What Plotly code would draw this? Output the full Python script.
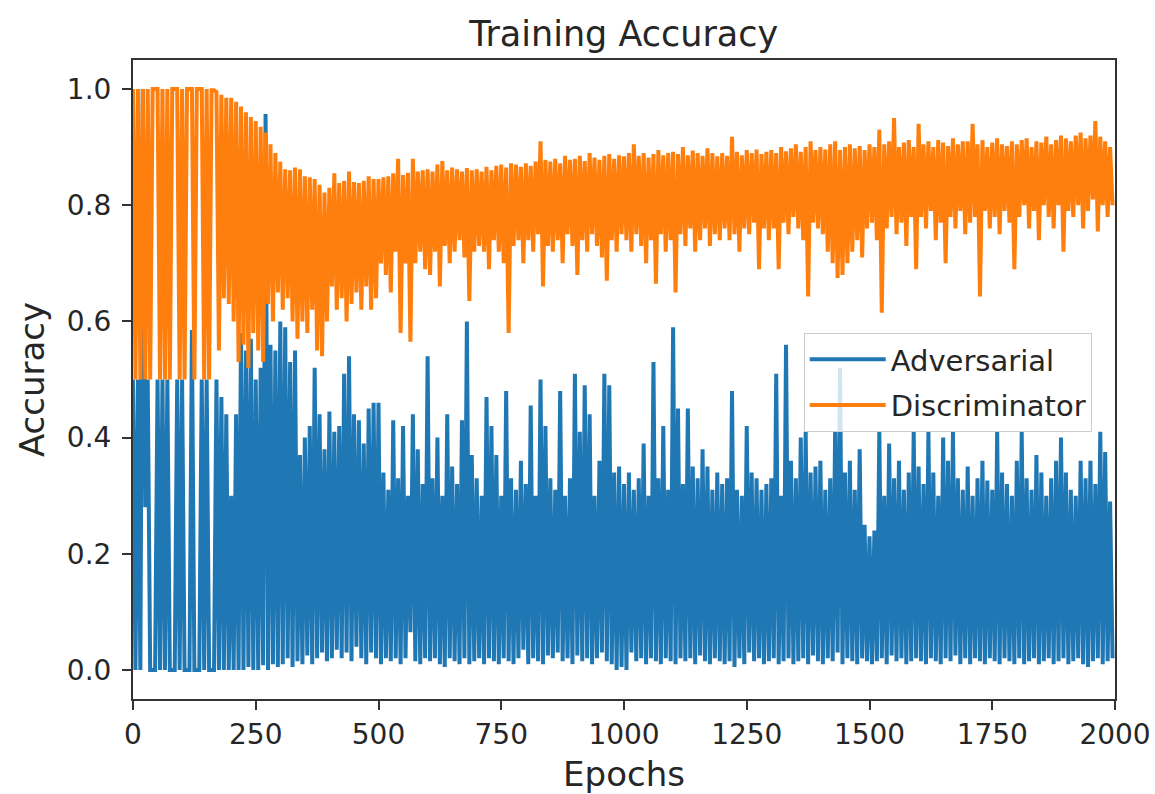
import plotly.graph_objects as go

# Bin start epochs (each bin = 10 epochs); per bin the max (hi) and min (lo)
bin_epochs = list(range(0, 2000, 10))

adv_hi = [
    0.5, 0.5, 1.0, 0.5, 0.0, 0.5, 0.5, 0.5, 0.0, 0.5,
    0.5, 0.0, 0.585, 0.0, 0.5, 0.5, 0.0, 0.5, 0.47, 0.44,
    0.3, 0.44, 0.58, 0.55, 0.57, 0.5, 0.52, 0.957, 0.56, 0.55,
    0.6, 0.59, 0.53, 0.55, 0.37, 0.4, 0.42, 0.52, 0.44, 0.38,
    0.445, 0.41, 0.42, 0.51, 0.54, 0.44, 0.43, 0.39, 0.45, 0.46,
    0.46, 0.34, 0.31, 0.43, 0.33, 0.42, 0.3, 0.44, 0.38, 0.32,
    0.54, 0.33, 0.4, 0.3, 0.44, 0.35, 0.32, 0.43, 0.6, 0.37,
    0.33, 0.3, 0.47, 0.42, 0.37, 0.3, 0.48, 0.33, 0.31, 0.36,
    0.32, 0.455, 0.3, 0.5, 0.42, 0.33, 0.31, 0.48, 0.3, 0.33,
    0.51, 0.41, 0.49, 0.44, 0.3, 0.36, 0.51, 0.49, 0.34, 0.35,
    0.32, 0.34, 0.31, 0.33, 0.39, 0.3, 0.53, 0.33, 0.42, 0.31,
    0.59, 0.45, 0.32, 0.45, 0.35, 0.33, 0.38, 0.35, 0.31, 0.34,
    0.32, 0.33, 0.48, 0.31, 0.3, 0.42, 0.34, 0.33, 0.31, 0.32,
    0.33, 0.51, 0.3, 0.56, 0.36, 0.33, 0.4, 0.41, 0.34, 0.35,
    0.36, 0.31, 0.33, 0.41, 0.52, 0.34, 0.36, 0.31, 0.38, 0.25,
    0.23, 0.24, 0.41, 0.3, 0.39, 0.33, 0.36, 0.31, 0.34, 0.41,
    0.35, 0.32, 0.41, 0.34, 0.3, 0.4, 0.36, 0.41, 0.33, 0.31,
    0.35, 0.3, 0.33, 0.36, 0.326, 0.31, 0.41, 0.34, 0.32, 0.3,
    0.36, 0.41, 0.33, 0.31, 0.37, 0.34, 0.3, 0.33, 0.36, 0.4,
    0.34, 0.31, 0.3, 0.36, 0.33, 0.36, 0.32, 0.41, 0.375, 0.29,
]

adv_lo = [
    0.0, 0.0, 0.28, 0.0, 0.0, 0.0, 0.0, 0.0, 0.0, 0.0,
    0.0, 0.0, 0.0, 0.0, 0.0, 0.0, 0.0, 0.0, 0.0, 0.0,
    0.0, 0.0, 0.0, 0.005, 0.0, 0.0, 0.008, 0.0, 0.01, 0.005,
    0.01, 0.02, 0.005, 0.015, 0.01, 0.025, 0.01, 0.02, 0.03, 0.015,
    0.02, 0.035, 0.02, 0.03, 0.015, 0.04, 0.02, 0.01, 0.03, 0.02,
    0.01, 0.02, 0.015, 0.02, 0.01, 0.02, 0.065, 0.015, 0.01, 0.02,
    0.015, 0.02, 0.01, 0.005, 0.02, 0.015, 0.01, 0.02, 0.01, 0.015,
    0.02, 0.01, 0.02, 0.015, 0.01, 0.02, 0.015, 0.01, 0.02, 0.035,
    0.01, 0.02, 0.015, 0.01, 0.025, 0.02, 0.03, 0.015, 0.02, 0.01,
    0.025, 0.015, 0.02, 0.01, 0.02, 0.03, 0.015, 0.01, 0.0, 0.005,
    0.0, 0.03, 0.015, 0.02, 0.01, 0.02, 0.015, 0.01, 0.02, 0.015,
    0.01, 0.02, 0.015, 0.02, 0.01, 0.025, 0.015, 0.01, 0.02, 0.015,
    0.01, 0.015, 0.005, 0.02, 0.01, 0.03, 0.015, 0.02, 0.01, 0.015,
    0.02, 0.01, 0.015, 0.02, 0.01, 0.015, 0.02, 0.01, 0.025, 0.015,
    0.01, 0.02, 0.015, 0.03, 0.01, 0.02, 0.015, 0.01, 0.02, 0.015,
    0.01, 0.015, 0.02, 0.01, 0.025, 0.015, 0.02, 0.01, 0.015, 0.02,
    0.015, 0.01, 0.02, 0.015, 0.01, 0.02, 0.015, 0.025, 0.01, 0.02,
    0.01, 0.02, 0.015, 0.01, 0.02, 0.015, 0.01, 0.02, 0.015, 0.01,
    0.02, 0.01, 0.015, 0.02, 0.01, 0.015, 0.02, 0.01, 0.015, 0.02,
    0.01, 0.015, 0.02, 0.01, 0.005, 0.015, 0.02, 0.01, 0.015, 0.02,
]

dis_hi = [
    1.0, 1.0, 1.0, 1.0, 1.0, 1.0, 1.0, 1.0, 1.0, 1.0,
    1.0, 1.0, 1.0, 1.0, 1.0, 1.0, 0.998, 0.995, 0.99, 0.985,
    0.985, 0.978, 0.97, 0.96, 0.952, 0.945, 0.935, 0.925, 0.905, 0.89,
    0.875, 0.862, 0.86, 0.865, 0.862, 0.85, 0.848, 0.845, 0.835, 0.822,
    0.83, 0.855, 0.838, 0.842, 0.858, 0.84, 0.838, 0.842, 0.85, 0.845,
    0.845, 0.848, 0.85, 0.855, 0.88, 0.852, 0.856, 0.88, 0.858, 0.86,
    0.862, 0.858, 0.87, 0.876, 0.86, 0.865, 0.862, 0.858, 0.864, 0.86,
    0.862, 0.858, 0.866, 0.86, 0.868, 0.87, 0.865, 0.872, 0.87, 0.866,
    0.872, 0.868, 0.875, 0.91, 0.878, 0.875, 0.88, 0.872, 0.885, 0.878,
    0.88, 0.885, 0.876, 0.89, 0.882, 0.878, 0.885, 0.888, 0.88, 0.886,
    0.884, 0.89, 0.905, 0.885, 0.89, 0.882, 0.888, 0.895, 0.886, 0.89,
    0.892, 0.888, 0.9, 0.886, 0.894, 0.89, 0.885, 0.898, 0.89, 0.884,
    0.89, 0.885, 0.918, 0.892, 0.886, 0.895, 0.89, 0.896, 0.888, 0.892,
    0.895, 0.89, 0.9, 0.893, 0.898, 0.905, 0.892, 0.9, 0.91, 0.895,
    0.9, 0.896, 0.905, 0.91, 0.895, 0.9, 0.905, 0.898, 0.902, 0.895,
    0.905, 0.9, 0.93, 0.905, 0.91, 0.95, 0.9, 0.908, 0.912, 0.9,
    0.94, 0.905, 0.91, 0.9, 0.912, 0.908, 0.902, 0.915, 0.905, 0.91,
    0.91, 0.94, 0.905, 0.912, 0.9, 0.908, 0.915, 0.905, 0.902, 0.91,
    0.905, 0.912, 0.915, 0.9, 0.91, 0.908, 0.918, 0.905, 0.912, 0.92,
    0.915, 0.91, 0.92, 0.925, 0.915, 0.92, 0.945, 0.918, 0.91, 0.9,
]

dis_lo = [
    0.5, 0.5, 0.5, 0.5, 1.0, 0.5, 0.5, 0.5, 1.0, 0.5,
    0.5, 1.0, 0.5, 1.0, 0.5, 0.5, 0.998, 0.55, 0.64, 0.63,
    0.6, 0.53, 0.56, 0.52, 0.58, 0.55, 0.53, 0.63, 0.6, 0.65,
    0.62, 0.64, 0.6, 0.57, 0.6, 0.58, 0.62, 0.55, 0.54, 0.6,
    0.66, 0.62, 0.64, 0.6, 0.63, 0.65, 0.62, 0.66, 0.62, 0.64,
    0.7, 0.68, 0.65, 0.72, 0.58, 0.7, 0.565, 0.7, 0.72, 0.69,
    0.68, 0.72, 0.66, 0.73, 0.7, 0.72, 0.74, 0.71, 0.635, 0.72,
    0.73, 0.72, 0.69, 0.74, 0.72, 0.7, 0.58, 0.73, 0.74, 0.7,
    0.74, 0.72, 0.75, 0.66, 0.73, 0.72, 0.74, 0.7, 0.75, 0.73,
    0.68, 0.74, 0.72, 0.75, 0.73, 0.71, 0.67, 0.74, 0.72, 0.75,
    0.74, 0.72, 0.75, 0.73, 0.7, 0.74, 0.665, 0.75, 0.72, 0.74,
    0.65, 0.75, 0.73, 0.76, 0.72, 0.74, 0.76, 0.73, 0.75, 0.74,
    0.76, 0.74, 0.75, 0.72, 0.76, 0.75, 0.77, 0.69, 0.76, 0.74,
    0.76, 0.69, 0.77, 0.75, 0.78, 0.76, 0.74, 0.643, 0.77, 0.76,
    0.75, 0.72, 0.7, 0.675, 0.68, 0.7, 0.72, 0.74, 0.71, 0.76,
    0.77, 0.74, 0.615, 0.76, 0.78, 0.75, 0.77, 0.73, 0.78, 0.69,
    0.78, 0.76, 0.79, 0.74, 0.77, 0.7, 0.78, 0.76, 0.79, 0.75,
    0.77, 0.78, 0.643, 0.79, 0.76, 0.78, 0.75, 0.79, 0.77, 0.69,
    0.78, 0.8, 0.76, 0.79, 0.74, 0.8, 0.78, 0.76, 0.8, 0.72,
    0.79, 0.78, 0.8, 0.76, 0.79, 0.81, 0.755, 0.8, 0.78, 0.8,
]

x_ticks = [0, 250, 500, 750, 1000, 1250, 1500, 1750, 2000]
y_ticks = [0.0, 0.2, 0.4, 0.6, 0.8, 1.0]


def zigzag(starts, hi, lo):
    xs, ys = [], []
    for s, h, l in zip(starts, hi, lo):
        xs += [s, s + 5]
        ys += [h, l]
    return xs, ys


ax, ay = zigzag(bin_epochs, adv_hi, adv_lo)
dx, dy = zigzag(bin_epochs, dis_hi, dis_lo)

FONT = "DejaVu Sans"
TXT = "#262626"

fig = go.Figure()
fig.add_trace(go.Scatter(x=ax, y=ay, mode="lines", name="Adversarial",
                         line=dict(color="#1f77b4", width=4, simplify=False),
                         legendgroup="a"))
fig.add_trace(go.Scatter(x=dx, y=dy, mode="lines", name="Discriminator",
                         line=dict(color="#ff7f0e", width=4, simplify=False),
                         legendgroup="d"))

fig.update_layout(
    width=1155, height=794,
    margin=dict(l=133, r=40, t=60, b=95),
    paper_bgcolor="white", plot_bgcolor="white",
    font=dict(family=FONT, size=28, color=TXT),
    title=dict(text="Training Accuracy", x=0.54, xanchor="center",
               y=0.958, yanchor="middle", font=dict(size=35, color=TXT)),
    showlegend=True,
    legend=dict(x=0.683, y=0.573, xanchor="left", yanchor="top",
                bgcolor="rgba(255,255,255,0.8)", bordercolor="#cccccc",
                borderwidth=1, font=dict(size=29, color=TXT),
                tracegroupgap=5, itemwidth=76),
)
fig.update_xaxes(range=[0, 2000], tickvals=x_ticks, ticks="outside",
                 ticklen=9, tickwidth=2, tickcolor="#333", automargin=False,
                 showline=True, linecolor="#333", linewidth=2, mirror=True,
                 showgrid=False, zeroline=False,
                 title=dict(text="Epochs", standoff=13))
fig.update_yaxes(range=[-0.05, 1.05], tickvals=y_ticks, tickformat=".1f",
                 ticks="outside", ticklen=9, tickwidth=2, tickcolor="#333",
                 ticklabelstandoff=5, automargin=False,
                 showline=True, linecolor="#333", linewidth=2, mirror=True,
                 showgrid=False, zeroline=False,
                 title=dict(text="Accuracy", standoff=12))

fig.write_html("out.html")
